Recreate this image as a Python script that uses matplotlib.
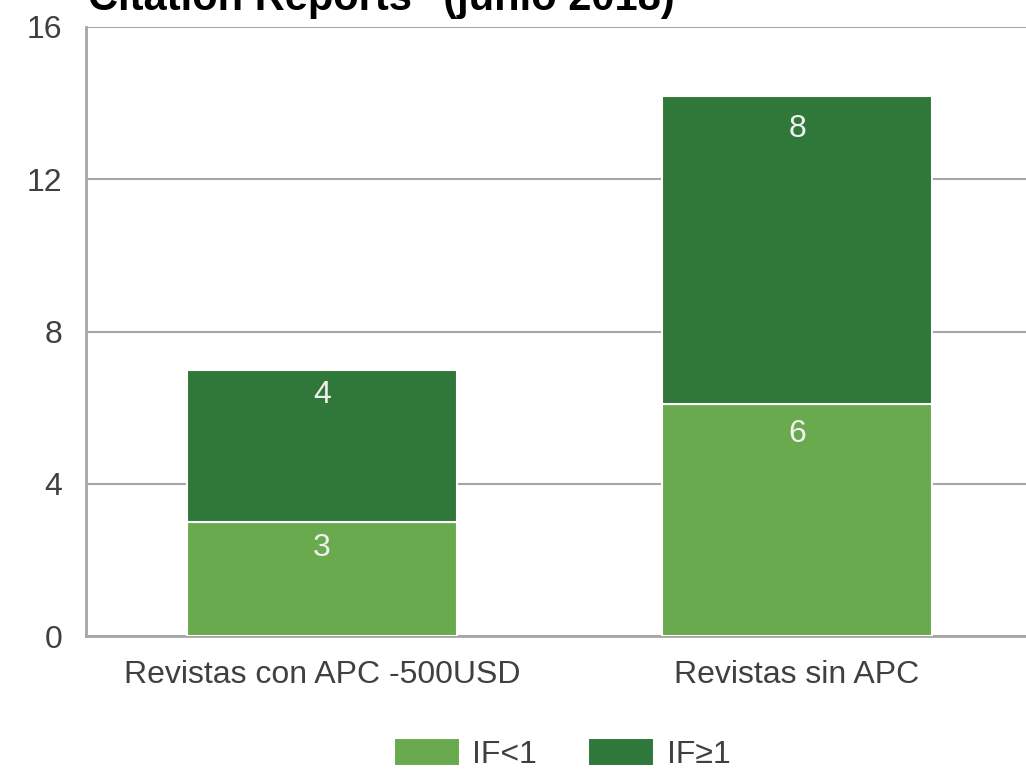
import matplotlib
matplotlib.use("Agg")
import matplotlib.pyplot as plt

plt.rcParams["font.family"] = ["Liberation Sans", "DejaVu Sans"]

categories = ["Revistas con APC -500USD", "Revistas sin APC"]
if_menor_1 = [3, 6.1]
if_mayor_1 = [4, 8.1]
series_names = ["IF<1", "IF≥1"]

LIGHT = "#6aaa4e"
DARK = "#30773a"
GRID = "#a6a6a6"
TEXT = "#404040"

fig = plt.figure(figsize=(10.26, 7.71), dpi=100)
ax = fig.add_axes([86 / 1026, 1 - 636 / 771, 1 - 86 / 1026, (636 - 27) / 771])

x = list(range(len(categories)))
width = 0.568
b1 = ax.bar(x, if_menor_1, width, color=LIGHT, edgecolor="white", linewidth=1.5,
            label=series_names[0], zorder=3)
b2 = ax.bar(x, if_mayor_1, width, bottom=if_menor_1, color=DARK, edgecolor="white",
            linewidth=1.5, label=series_names[1], zorder=3)

# etiquetas de valor (redondeadas) cerca del borde superior de cada segmento
for bars, bottoms, vals in [(b1, [0, 0], if_menor_1), (b2, if_menor_1, if_mayor_1)]:
    for bar, bot, v in zip(bars, bottoms, vals):
        top = round(bot) + round(v)
        ax.text(bar.get_x() + bar.get_width() / 2, top - 0.68, f"{v:.0f}",
                ha="center", va="center", color="#f0f0f0", fontsize=23, zorder=4)

ax.set_xlim(-0.497, 1.482)
ax.set_ylim(0, 16)
ax.set_yticks([0, 4, 8, 12, 16])
ax.set_xticks(x)
ax.set_xticklabels(categories)
ax.yaxis.grid(True, color=GRID, linewidth=1.5, zorder=0)
ax.tick_params(axis="both", length=0, labelsize=23, colors=TEXT)
ax.tick_params(axis="y", pad=17)
ax.tick_params(axis="x", pad=17)
for side in ["top", "right"]:
    ax.spines[side].set_visible(False)
for side in ["left", "bottom"]:
    ax.spines[side].set_color(GRID)
    ax.spines[side].set_linewidth(2)

fig.text(88 / 1026, 1 - 10 / 771, 'Citation Reports" (junio 2018)', fontsize=30,
         fontweight="bold", color="black", ha="left", va="baseline")

fig.legend(handles=[b1, b2], labels=series_names, loc="center",
           bbox_to_anchor=(0.548, 1 - 754 / 771), ncol=2, frameon=False,
           fontsize=23, handlelength=2.05, handleheight=1.0, columnspacing=1.6,
           handletextpad=0.4, labelcolor=TEXT, borderpad=0.2)

fig.savefig("out.png", dpi=100)
